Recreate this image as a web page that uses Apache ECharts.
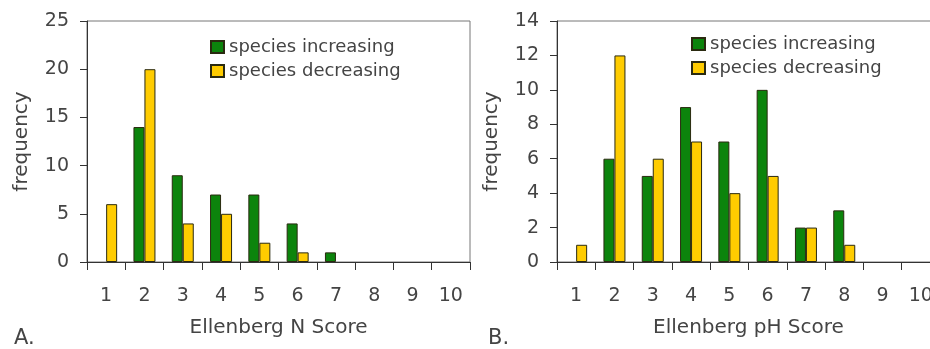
<!DOCTYPE html>
<html><head><meta charset="utf-8">
<script src="https://cdn.jsdelivr.net/npm/echarts@6/dist/echarts.min.js"></script>
<style>html,body{margin:0;padding:0;background:#fff}#c{width:930px;height:349px}</style>
</head><body><div id="c"></div>
<script>
const categories = ['1','2','3','4','5','6','7','8','9','10'];
const nIncreasing = [0,14,9,7,7,4,1,0,0,0];
const nDecreasing = [6,20,4,5,2,1,0,0,0,0];
const phIncreasing = [0,6,5,9,7,10,2,3,0,0];
const phDecreasing = [1,12,6,7,4,5,2,1,0,0];
const seriesNames = ['species increasing','species decreasing'];
const xNames = ['Ellenberg N Score','Ellenberg pH Score'];
const yName = 'frequency';
const panelLabels = ['A.','B.'];
const yMax = [25,14];
const yInterval = [5,2];

const FONT = 'DejaVu Sans';
const TXT = '#444';
const GREEN = '#0c840c', YELLOW = '#ffcc00';
const panels = [[nIncreasing,nDecreasing],[phIncreasing,phDecreasing]];
const gridLeft = [87,557];

const chart = echarts.init(document.getElementById('c'));
const option = {
  animation:false,
  textStyle:{fontFamily:FONT},
  grid: gridLeft.map(l => ({left:l, top:21, width:383, height:241, show:true, borderColor:'#777', borderWidth:1, outerBoundsMode:'none', containLabel:false})),
  xAxis: [0,1].map(i => ({
    type:'category', gridIndex:i, data:categories,
    axisLine:{lineStyle:{color:'#333',width:1}},
    axisTick:{show:true,inside:false,length:8,lineStyle:{color:'#333',width:1}},
    axisLabel:{fontSize:19,color:TXT,margin:25,fontFamily:FONT},
    name:xNames[i], nameLocation:'middle', nameGap:56,
    nameTextStyle:{fontSize:20,color:TXT,fontFamily:FONT}
  })),
  yAxis: [0,1].map(i => ({
    type:'value', gridIndex:i, min:0, max:yMax[i], interval:yInterval[i],
    axisLine:{show:true,lineStyle:{color:'#333',width:1}},
    axisTick:{show:true,inside:false,length:7,lineStyle:{color:'#333',width:1}},
    splitLine:{show:false},
    axisLabel:{fontSize:19,color:TXT,margin:18,fontFamily:FONT},
    name:yName, nameLocation:'middle', nameGap:55, nameRotate:90,
    nameTextStyle:{fontSize:20,color:TXT,fontFamily:FONT}
  })),
  legend: [0,1].map(i => ({
    data:seriesNames, orient:'vertical', left:[205,686][i], top:[33,30][i],
    icon:'rect', itemWidth:13, itemHeight:12, itemGap:6,
    textStyle:{fontSize:18,color:TXT,fontFamily:FONT}
  })),
  series: [],
  graphic: panelLabels.map((t,i) => ({
    type:'text', left:[14,488][i], top:328,
    style:{text:t, fontSize:21, fill:TXT, fontFamily:FONT}
  }))
};
[0,1].forEach(i => {
  [0,1].forEach(j => {
    option.series.push({
      type:'bar', name:seriesNames[j], xAxisIndex:i, yAxisIndex:i,
      data:panels[i][j].map(v => v === 0 ? '-' : v), barWidth:11, barGap:'0%',
      itemStyle:{color:j===0?GREEN:YELLOW, borderColor:'#2a2a10', borderWidth:1}
    });
  });
});
chart.setOption(option);
</script></body></html>
